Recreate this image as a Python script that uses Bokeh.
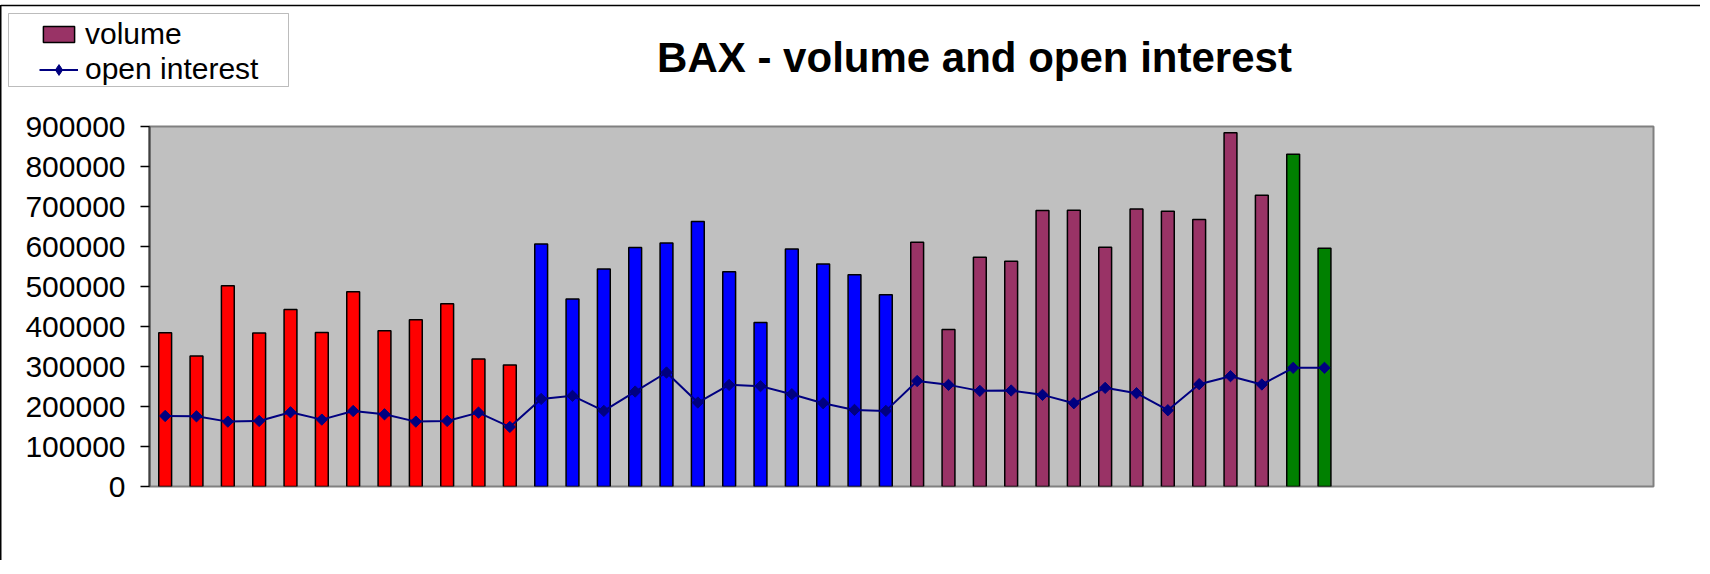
from bokeh.plotting import figure
from bokeh.layouts import column
from bokeh.models import (ColumnDataSource, Range1d, FixedTicker, NumeralTickFormatter,
                          Label, Legend, LegendItem, BoxAnnotation, Span)
from bokeh.embed import file_html
from bokeh.resources import INLINE

# ---------------- data ----------------
n_slots = 48  # monthly slots on the horizontal axis (last 10 are empty)
volume = [384300, 326100, 501600, 383500, 442500, 385100, 486600, 389300, 416700, 456700, 318600, 303600,
          606000, 468600, 543700, 597200, 608800, 662300, 537100, 410200, 593800, 556300, 529600, 479500,
          610500, 392700, 573000, 562900, 689800, 690600, 598000, 694000, 688100, 667300, 884300, 728200,
          830800, 595500]
open_interest = [176300, 175500, 162200, 163900, 185500, 167200, 188800, 180500, 162200, 163900, 184700, 148900,
                 218900, 226600, 189000, 237400, 285000, 209900, 254100, 250800, 230800, 208200, 191500, 189000,
                 263700, 254100, 239100, 240000, 229100, 208200, 246600, 233300, 190700, 255800, 275800, 255000,
                 296700, 296700]
year = ["y1", "y1", "y1", "y1", "y1", "y1", "y1", "y1", "y1", "y1", "y1", "y1",
        "y2", "y2", "y2", "y2", "y2", "y2", "y2", "y2", "y2", "y2", "y2", "y2",
        "y3", "y3", "y3", "y3", "y3", "y3", "y3", "y3", "y3", "y3", "y3", "y3",
        "y4", "y4"]
year_colors = {"y1": "#FF0000", "y2": "#0000FF", "y3": "#993366", "y4": "#008000"}
y_ticks = [0, 100000, 200000, 300000, 400000, 500000, 600000, 700000, 800000, 900000]
title_text = "BAX - volume and open interest"

src = ColumnDataSource(dict(
    x=list(range(len(volume))),
    volume=volume,
    oi=open_interest,
    color=[year_colors[y] for y in year],
))

W = 1700
HH = 106          # header (title + legend) height
HM = 454          # main chart height
ML, MR, MT, MB = 149, 47, 20, 74

BAR_W = 0.41
VOL_LINE = dict(line_color="black", line_width=1.5)
OI_COLOR = "#000080"

# ---------------- header: title + legend ----------------
hdr = figure(width=W, height=HH, output_backend="svg", toolbar_location=None,
             x_range=Range1d(0, W), y_range=Range1d(HH, 0),
             x_axis_type=None, y_axis_type=None, min_border=0)
hdr.frame_align = False
hdr.outline_line_color = None
hdr.background_fill_alpha = 0
hdr.border_fill_alpha = 0

# legend-only renderers (hidden in the header; their legend entries stay fully drawn)
hb = hdr.vbar(x="x", top="volume", width=BAR_W, source=src, fill_color="color",
              visible=False, **VOL_LINE)
hl = hdr.line(x="x", y="oi", source=src, line_color=OI_COLOR, line_width=2, visible=False)
hs = hdr.scatter(x="x", y="oi", source=src, marker="diamond", size=13,
                 fill_color=OI_COLOR, line_color=OI_COLOR, visible=False)

# top edge of the outer chart border
hdr.add_layout(Span(location=5, dimension="width", line_color="black", line_width=1.5))

# legend frame
hdr.add_layout(BoxAnnotation(left=8, right=288, top=13, bottom=86,
                             fill_color="white", fill_alpha=1, line_color="#202020", line_width=1))

leg_common = dict(label_text_font="Liberation Sans", label_text_font_size="30px",
                  label_text_color="black", glyph_width=39, label_standoff=7, label_height=35,
                  padding=0, spacing=0, margin=0, background_fill_alpha=0, border_line_alpha=0,
                  inactive_fill_alpha=0)
leg_vol = Legend(items=[LegendItem(label="volume", renderers=[hb], index=24)],
                 location=(39, HH - 16.5 - 35), glyph_height=20, **leg_common)
leg_oi = Legend(items=[LegendItem(label="open interest", renderers=[hl, hs])],
                location=(39, HH - 51.5 - 35), glyph_height=27, **leg_common)
hdr.add_layout(leg_vol, "center")
hdr.add_layout(leg_oi, "center")

hdr.add_layout(Label(x=974, y=57, text=title_text,
                     text_align="center", text_baseline="alphabetic",
                     text_font="Liberation Sans", text_font_style="bold",
                     text_font_size="42px", text_color="black"))

# ---------------- main chart ----------------
p = figure(width=W, height=HM, output_backend="svg", toolbar_location=None,
           x_range=Range1d(-0.5, n_slots - 0.5), y_range=Range1d(0, y_ticks[-1]),
           min_border_left=ML, min_border_right=MR, min_border_top=MT, min_border_bottom=MB)
p.frame_align = False

p.background_fill_color = "#C0C0C0"
p.border_fill_alpha = 0
p.outline_line_color = "#808080"
p.outline_line_width = 2
p.grid.visible = False
p.xaxis.visible = False

ax = p.yaxis[0]
ax.ticker = FixedTicker(ticks=y_ticks)
ax.formatter = NumeralTickFormatter(format="0")
ax.major_label_text_font = "Liberation Sans"
ax.major_label_text_font_size = "30px"
ax.major_label_text_color = "black"
ax.major_tick_out = 9
ax.major_tick_in = 0
ax.minor_tick_out = 0
ax.minor_tick_in = 0
ax.axis_line_color = "#404040"
ax.axis_line_width = 2
ax.major_tick_line_color = "black"
ax.major_tick_line_width = 1.5
ax.major_label_standoff = 15

p.vbar(x="x", top="volume", width=BAR_W, source=src, fill_color="color", **VOL_LINE)
p.line(x="x", y="oi", source=src, line_color=OI_COLOR, line_width=2)
p.scatter(x="x", y="oi", source=src, marker="square", angle=0.785398, size=8,
          fill_color=OI_COLOR, line_color=OI_COLOR)

lay = column(hdr, p, spacing=0)
# left edge of the outer chart border, painted behind the transparent canvas borders
lay.styles = {"background": "linear-gradient(#000000, #000000) 0px 5px / 1.5px 100% no-repeat, #ffffff"}

open("out.html", "w").write(file_html(lay, INLINE))
